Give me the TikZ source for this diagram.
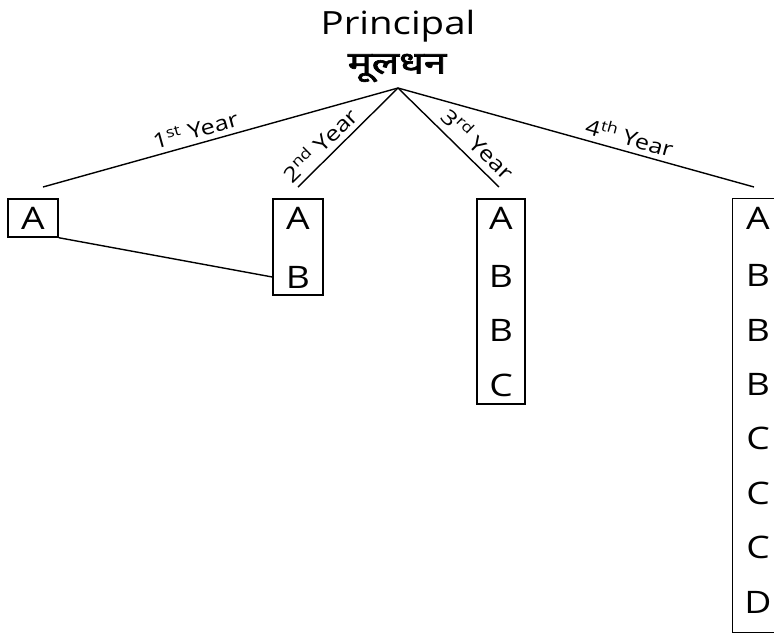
\documentclass[tikz,border=0pt]{standalone}
\usepackage{fontspec}
\setmainfont{Open Sans}
\newfontfamily\devfont[Script=Devanagari,FakeBold=2]{Noto Sans}
\newcommand{\widetxt}[1]{\scalebox{1.2}[1]{#1}}
\begin{document}
\begin{tikzpicture}[x=1pt,y=-1pt,line width=1.4pt,
  letter/.style={font=\fontsize{31}{34}\selectfont,inner sep=0pt},
  boxnode/.style={draw,line width=1.4pt,inner sep=0pt},
  lbl/.style={font=\fontsize{21}{24}\selectfont,inner sep=5pt,sloped,above},
  title/.style={font=\fontsize{32}{36}\selectfont,inner sep=0pt}]
\useasboundingbox (0,0) rectangle (774,633);
% titles
\node[title] (prin) at (398,26) {\widetxt{Principal}};
\node[font=\devfont\fontsize{31}{34}\selectfont,inner sep=0pt] (mool) at (397,68) {\scalebox{1.3}[1]{मूलधन}};
% tree lines
\coordinate (apex) at (398,88);
\coordinate (e1) at (43,187);
\coordinate (e2) at (298,187);
\coordinate (e3) at (499,187);
\coordinate (e4) at (754,187);
\draw (apex) -- node[lbl,pos=0.56] {\widetxt{1\textsuperscript{st} Year}} (e1);
\draw (apex) -- node[lbl,pos=0.68] {\widetxt{2\textsuperscript{nd} Year}} (e2);
\draw (apex) -- node[lbl,pos=0.68,inner sep=7pt] {\widetxt{3\textsuperscript{rd} Year}} (e3);
\draw (apex) -- node[lbl,pos=0.64] {\widetxt{4\textsuperscript{th} Year}} (e4);
% boxes
\node[boxnode,minimum width=50pt,minimum height=38pt] (box1) at (33,218) {};
\node[boxnode,minimum width=50pt,minimum height=96pt] (box2) at (298,247) {};
\node[boxnode,minimum width=48pt,minimum height=205pt] (box3) at (501,301.5) {};
\node[inner sep=0pt,minimum width=64pt,minimum height=433pt] (box4) at (765,415.5) {};
\draw (box4.north east) -- (box4.north west) -- (box4.south west) -- (box4.south east);
% letters
\node[letter] (a1) at (33,218) {\widetxt{A}};
\node[letter] (a2) at (298,218) {\widetxt{A}};
\node[letter] (b2) at (298,277) {\widetxt{B}};
\node[letter] (a3) at (501,218) {\widetxt{A}};
\node[letter] (b3a) at (501,276) {\widetxt{B}};
\node[letter] (b3b) at (501,330) {\widetxt{B}};
\node[letter] (c3) at (501,385) {\widetxt{C}};
\node[letter] (a4) at (758,218) {\widetxt{A}};
\node[letter] (b4a) at (758,275) {\widetxt{B}};
\node[letter] (b4b) at (758,330) {\widetxt{B}};
\node[letter] (b4c) at (758,384) {\widetxt{B}};
\node[letter] (c4a) at (758,438) {\widetxt{C}};
\node[letter] (c4b) at (758,493) {\widetxt{C}};
\node[letter] (c4c) at (758,547) {\widetxt{C}};
\node[letter] (d4) at (758,602) {\widetxt{D}};
% connector
\draw (box1.south east) -- (box2.west |- b2);
\end{tikzpicture}
\end{document}
